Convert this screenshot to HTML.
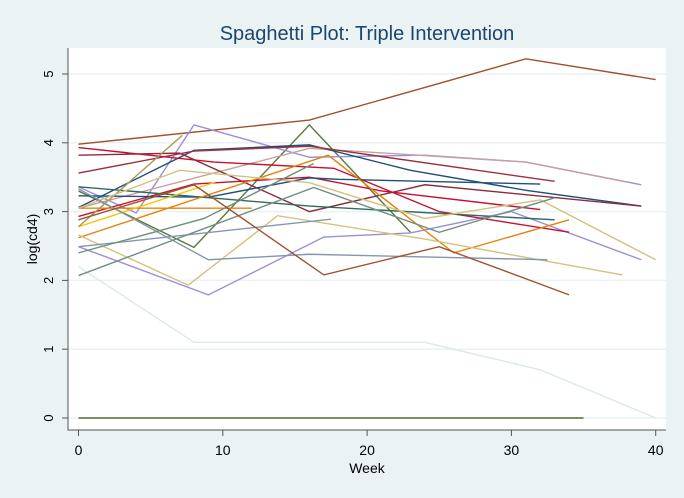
<!DOCTYPE html>
<html><head><meta charset="utf-8"><style>
body{margin:0;background:#eaf2f3;}
svg{display:block;font-family:"Liberation Sans",Arial,sans-serif;}
</style></head><body>
<svg id="chart" width="684" height="498" viewBox="0 0 684 498">
<rect x="0" y="0" width="684" height="498" fill="#eaf2f3"/>
<rect x="68" y="48" width="598" height="382" fill="#ffffff"/>
<text x="367" y="40" text-anchor="middle" font-size="20" fill="#1a476f">Spaghetti Plot: Triple Intervention</text>
<text x="367" y="473" text-anchor="middle" font-size="14" fill="#000">Week</text>
<text transform="translate(37,239) rotate(-90)" text-anchor="middle" font-size="14" fill="#000">log(cd4)</text>
<g id="grid"></g><g id="series"></g><g id="axes"></g>
</svg>
<script>
const xTicks=[0,10,20,30,40];
const yTicks=[0,1,2,3,4,5];
const sWeeks=[
[0,16,31,40],[0,8,24,32,40],[0,35],[0,8,16,23],[0,9,17,23,30,39],
[0,4,8,16,24,31,39],[0,16,31,38],[0,8,16,23,31,39],[0,7,16,24,39],[0,8,16,33],
[0,9.4,17.7,25,34],[0,8,16,21,32],[0,9,16,18,32],[0,16,33],[0,17.3,26,34],
[0,12],[0,9.5],[0,7.2],[0,7,16,24,32,40],[0,7.6,13.8,24,37.7],
[0,17.5],[0,9,16,32.5],[0,8.7,16.3],[0,16.3,25,33],[0,8,17,25,34]];
const sValues=[
[3.98,4.33,5.22,4.92],[2.2,1.1,1.1,0.7,0],[0,0],[3.3,2.48,4.26,2.7],[2.49,1.79,2.63,2.69,3.0,2.3],
[3.36,2.98,4.26,3.79,3.82,3.72,3.39],[3.05,3.92,3.72,3.43],[3.06,3.89,3.97,3.6,3.31,3.08],[3.82,3.85,3.0,3.39,3.08],[3.56,3.88,3.95,3.44],
[3.93,3.72,3.63,3.0,2.7],[2.93,3.4,3.5,3.3,3.03],[3.23,3.21,3.49,3.47,3.4],[3.36,3.08,2.88],[2.62,3.82,2.4,2.88],
[3.05,3.05],[2.78,3.43],[2.78,4.11],[3.05,3.6,3.42,2.9,3.17,2.3],[2.66,1.93,2.94,2.6,2.08],
[2.49,2.89],[3.33,2.3,2.38,2.3],[2.4,2.9,3.7],[2.07,3.35,2.7,3.2],[2.88,3.39,2.08,2.49,1.79]];
const sColors=["#a0522d","#dde8eb","#5a6e36","#5b7a3a","#9b8fd8","#9b8fd8","#c9a0a0","#1f4e79","#8b2c3c","#9b3040","#c8102e","#c8102e","#1f4e79","#2e6b5e","#e8820c","#e8820c","#f5c400","#a89858","#d1c37e","#d1c37e","#8497b0","#8497b0","#6f8f7f","#6f8f7f","#a0522d"];
const NS="http://www.w3.org/2000/svg";
const xs=w=>78.5+w*14.43, ys=v=>418-v*68.8;
const grid=document.getElementById('grid'),axes=document.getElementById('axes'),ser=document.getElementById('series');
function mk(tag,at,par){const e=document.createElementNS(NS,tag);for(const k in at)e.setAttribute(k,at[k]);par.appendChild(e);return e;}
yTicks.forEach(t=>{
 const g=mk('line',{x1:68,x2:666,y1:ys(t),y2:ys(t),stroke:'#eaf2f3','stroke-width':1.5},grid);
 
 
 const tk=mk('line',{x1:62,x2:68,y1:ys(t),y2:ys(t),stroke:'#555'},axes);
 
 
 const tx=mk('text',{transform:`translate(53,${ys(t)}) rotate(-90)`,'text-anchor':'middle','font-size':13},axes);
 tx.textContent=t;
 
 
});
xTicks.forEach(t=>{
 const tk=mk('line',{x1:xs(t),x2:xs(t),y1:430,y2:436,stroke:'#555'},axes);
 
 
 const tx=mk('text',{x:xs(t),y:455,'text-anchor':'middle','font-size':14},axes);
 tx.textContent=t;
 
 
});
const ax=mk('path',{d:'M68,48V430H666',fill:'none',stroke:'#555','stroke-width':1},axes);


sWeeks.forEach((ws,i)=>{
 const pts=ws.map((w,j)=>xs(w)+','+ys(sValues[i][j])).join(' ');
 const p=mk('polyline',{points:pts,fill:'none',stroke:sColors[i],'stroke-width':1.4},ser);
 
 
});
</script>
</body></html>
